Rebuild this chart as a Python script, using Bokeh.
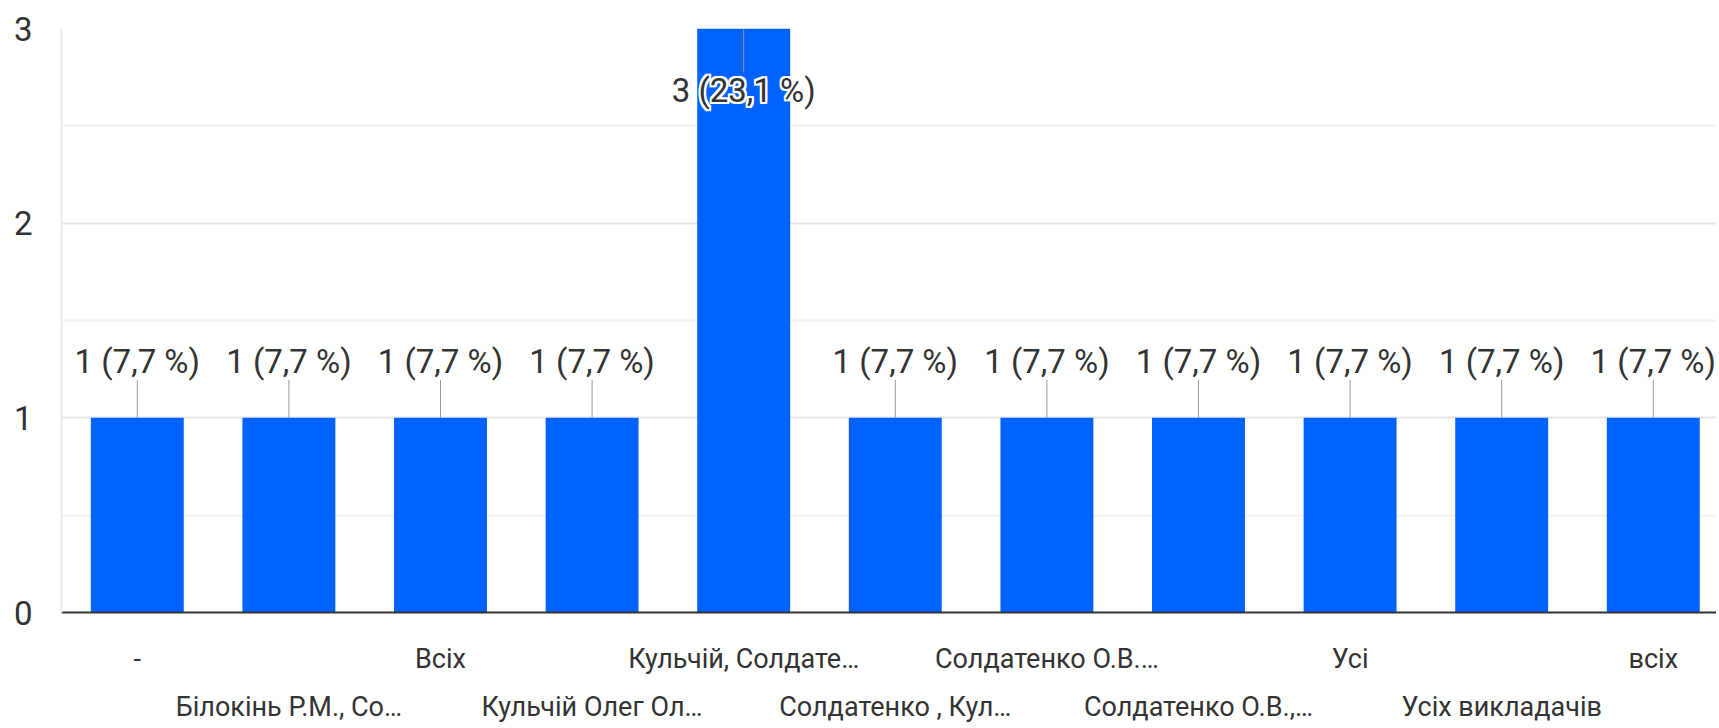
from bokeh.plotting import figure
from bokeh.models import Range1d, FixedTicker, LinearAxis, ColumnDataSource
from bokeh.embed import file_html
from bokeh.resources import INLINE
from bokeh.core.properties import value

categories = [
    "-",
    "Білокінь Р.М., Со…",
    "Всіх",
    "Кульчій Олег Ол…",
    "Кульчій, Солдате…",
    "Солдатенко , Кул…",
    "Солдатенко О.В.…",
    "Солдатенко О.В.,…",
    "Усі",
    "Усіх викладачів",
    "всіх",
]
counts = [1, 1, 1, 1, 3, 1, 1, 1, 1, 1, 1]
y_ticks = [0, 1, 2, 3]
y_minor_ticks = [0.5, 1.5, 2.5]

FONT = "Roboto"
TEXT_COLOR = "#333333"
BAR_COLOR = "#0062ff"

TOP, LEFT = 28, 61
FRAME_W, FRAME_H = 1655, 584
y_max = max(y_ticks)
px_per_unit = FRAME_H / y_max
cat_px = 151.6
x_end = FRAME_W / cat_px

total = sum(counts)
labels = [f"{c} ({c / total * 100:.1f} %)".replace(".", ",") for c in counts]
xs = [i + 0.5 for i in range(len(categories))]

# label placement: above bar with a leader line, or inside when no room
lab_y_off, lead_end, inside = [], [], []
for c in counts:
    if c + 70 / px_per_unit > y_max:
        lab_y_off.append(62)
        lead_end.append(c - 44 / px_per_unit)
        inside.append(True)
    else:
        lab_y_off.append(-56)
        lead_end.append(c + 38 / px_per_unit)
        inside.append(False)

src = ColumnDataSource(dict(x=xs, top=counts, label=labels, yoff=lab_y_off, lead=lead_end))
out_idx = [i for i, f in enumerate(inside) if not f]
in_idx = [i for i, f in enumerate(inside) if f]
src_out = ColumnDataSource(dict(x=[xs[i] for i in out_idx], top=[counts[i] for i in out_idx],
                                label=[labels[i] for i in out_idx], yoff=[lab_y_off[i] for i in out_idx]))
src_in = ColumnDataSource(dict(x=[xs[i] for i in in_idx], top=[counts[i] for i in in_idx],
                               label=[labels[i] for i in in_idx], yoff=[lab_y_off[i] for i in in_idx],
                               yoff_up=[lab_y_off[i] - 2 for i in in_idx],
                               yoff_dn=[lab_y_off[i] + 2 for i in in_idx]))

p = figure(frame_width=FRAME_W, frame_height=FRAME_H, output_backend="svg", toolbar_location=None,
           x_range=Range1d(0, x_end), y_range=Range1d(0, y_max),
           x_axis_location=None, y_axis_location="left",
           min_border_left=LEFT, min_border_top=TOP, min_border_right=0, min_border_bottom=0)
p.outline_line_color = None
p.background_fill_color = "white"
p.border_fill_color = "white"

# y axis
p.yaxis.ticker = FixedTicker(ticks=y_ticks, minor_ticks=y_minor_ticks)
p.yaxis.axis_line_color = "#ebebeb"
p.yaxis.axis_line_width = 2
p.yaxis.major_tick_line_color = None
p.yaxis.minor_tick_line_color = None
p.yaxis.major_label_text_font = FONT
p.yaxis.major_label_text_font_size = "33px"
p.yaxis.major_label_text_color = TEXT_COLOR
p.yaxis.major_label_standoff = 23

p.ygrid.grid_line_color = "#e6e6e6"
p.ygrid.grid_line_width = 2
p.ygrid.minor_grid_line_color = "#f2f2f2"
p.ygrid.minor_grid_line_width = 2
p.xgrid.visible = False

# two rows of category labels
even = [i for i in range(len(categories)) if i % 2 == 0]
odd = [i for i in range(len(categories)) if i % 2 == 1]
ax1 = LinearAxis(ticker=FixedTicker(ticks=[xs[i] for i in even]),
                 major_label_overrides={xs[i]: categories[i] for i in even})
ax2 = LinearAxis(ticker=FixedTicker(ticks=[xs[i] for i in odd]),
                 major_label_overrides={xs[i]: categories[i] for i in odd})
for ax, standoff in ((ax1, 30), (ax2, 13)):
    ax.major_tick_line_color = None
    ax.minor_tick_line_color = None
    ax.major_tick_out = 0
    ax.major_label_text_font = FONT
    ax.major_label_text_font_size = "27px"
    ax.major_label_text_color = TEXT_COLOR
    ax.major_label_standoff = standoff
ax1.axis_line_color = "#333333"
ax1.axis_line_width = 2
ax2.axis_line_color = None
p.add_layout(ax1, "below")
p.add_layout(ax2, "below")

# bars
p.vbar(x="x", top="top", width=0.613, source=src, fill_color=BAR_COLOR, line_color=None)

# leader lines
p.segment(x0="x", y0="top", x1="x", y1="lead", source=src, line_color="#999999", line_width=1)

# labels above bars
p.text(x="x", y="top", text="label", y_offset="yoff", source=src_out,
       text_align="center", text_baseline="middle", text_font=value(FONT),
       text_font_size="33px", text_color=TEXT_COLOR)

# labels inside bars: white halo, then dark text
for dx in (-2, 0, 2):
    for col in ("yoff_up", "yoff", "yoff_dn"):
        if dx == 0 and col == "yoff":
            continue
        p.text(x="x", y="top", text="label", y_offset=col, x_offset=dx, source=src_in,
               text_align="center", text_baseline="middle", text_font=value(FONT),
               text_font_size="33px", text_color="white")
p.text(x="x", y="top", text="label", y_offset="yoff", source=src_in,
       text_align="center", text_baseline="middle", text_font=value(FONT),
       text_font_size="33px", text_color=TEXT_COLOR)

open("out.html", "w").write(file_html(p, INLINE))
